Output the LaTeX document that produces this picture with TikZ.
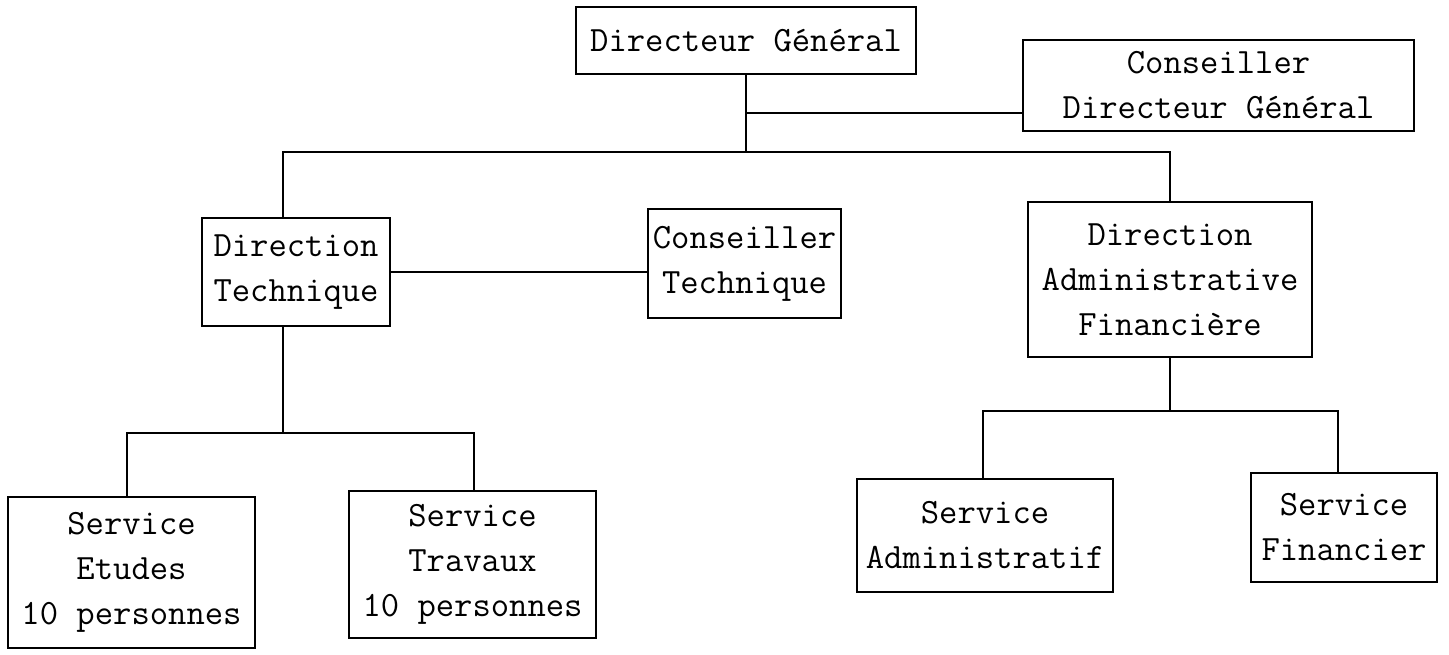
\documentclass[tikz,border=0pt]{standalone}
\usepackage{fontspec}
\begin{document}
\begin{tikzpicture}[x=0.5pt,y=-0.5pt,
  box/.style={draw, line width=1pt, inner sep=0pt, align=center,
    font=\ttfamily\fontsize{17.8pt}{22.5pt}\selectfont},
  conn/.style={line width=1pt}]
\useasboundingbox (0,0) rectangle (1449,654);
% boxes
\node[box, minimum width=170pt, minimum height=33.5pt] (dg) at (746,40.5) {Directeur Général};
\node[box, minimum width=195.5pt, minimum height=45.5pt] (cdg) at (1218.5,85.5) {Conseiller\\Directeur Général};
\node[box, minimum width=94pt, minimum height=54pt] (dt) at (296,272) {Direction\\Technique};
\node[box, minimum width=96.5pt, minimum height=54.5pt] (ct) at (744.5,263.5) {Conseiller\\Technique};
\node[box, minimum width=142pt, minimum height=77.5pt] (daf) at (1170,279.5) {Direction\\Administrative\\Financière};
\node[box, minimum width=123.5pt, minimum height=75.5pt] (se) at (131.5,572.5) {Service\\Etudes\\10 personnes};
\node[box, minimum width=123.5pt, minimum height=73.5pt] (st) at (472.5,564.5) {Service\\Travaux\\10 personnes};
\node[box, minimum width=128pt, minimum height=56.5pt] (sa) at (985,535.5) {Service\\Administratif};
\node[box, minimum width=93pt, minimum height=54.5pt] (sf) at (1344,527.5) {Service\\Financier};
% junction points
\coordinate (j0) at (746,152);
\coordinate (jc) at (746,113);
\coordinate (jl) at (283,152);
\coordinate (jr) at (1170,152);
\coordinate (k0) at (283,433);
\coordinate (kl) at (127,433);
\coordinate (kr) at (474,433);
\coordinate (m0) at (1170,411);
\coordinate (ml) at (983,411);
\coordinate (mr) at (1338,411);
% connectors
\draw[conn] (dg.south) -- (j0);
\draw[conn] (jc) -- (jc -| cdg.west);
\draw[conn] (jl |- dt.north) -- (jl) -- (jr) -- (jr |- daf.north);
\draw[conn] (dt.east) -- (dt.east -| ct.west);
\draw[conn] (k0 |- dt.south) -- (k0);
\draw[conn] (kl |- se.north) -- (kl) -- (kr) -- (kr |- st.north);
\draw[conn] (daf.south) -- (m0);
\draw[conn] (ml |- sa.north) -- (ml) -- (mr) -- (mr |- sf.north);
\end{tikzpicture}
\end{document}
